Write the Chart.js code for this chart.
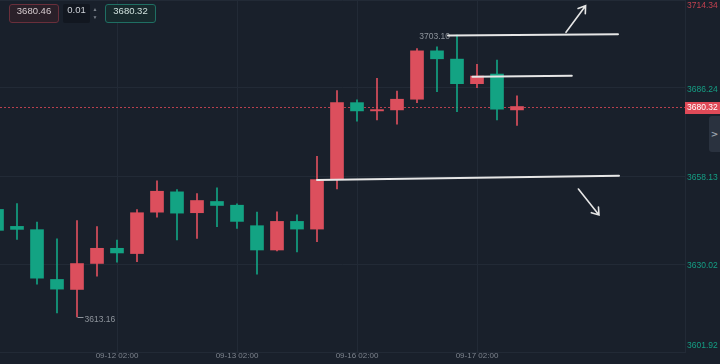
<!DOCTYPE html>
<html>
<head>
<meta charset="utf-8">
<script src="https://cdn.jsdelivr.net/npm/chart.js@4.4.1/dist/chart.umd.min.js"></script>
<style>
  html, body { margin: 0; padding: 0; background: #19202b; }
  #wrap { position: relative; width: 720px; height: 364px; overflow: hidden; }
  canvas { display: block; }
  .box {
    position: absolute; top: 4px; height: 19px; line-height: 18px;
    font: 9.5px 'Liberation Sans', Arial, sans-serif; text-align: center;
    border-radius: 3px; box-sizing: border-box;
  }
  #bid { left: 9px; width: 50px; background: #2a2029; border: 1px solid #6a2f3b; color: #d6ccd0; }
  #step { left: 63px; width: 27px; background: #121720; color: #cfd3d9; border-radius: 2px; }
  #spin { position: absolute; left: 92px; top: 5px; width: 6px; font: 5px sans-serif; color: #7a808a; line-height: 8px; text-align: center; }
  #ask { left: 105px; width: 51px; background: #172a2d; border: 1px solid #1f6f63; color: #cfe0dc; }
  #tab {
    position: absolute; left: 709px; top: 116px; width: 11px; height: 36px;
    background: #2a323f; border-radius: 3px 0 0 3px;
    color: #9aa2ad; font: bold 9px 'DejaVu Sans', sans-serif; line-height: 36px; text-align: center;
  }
</style>
</head>
<body>
<div id="wrap">
  <canvas id="grafica" width="720" height="364"></canvas>
  <div class="box" id="bid">3680.46</div>
  <div class="box" id="step">0.01</div>
  <div id="spin">▲<br>▼</div>
  <div class="box" id="ask">3680.32</div>
  <div id="tab">&gt;</div>
</div>
<script>
// 4H candles, 09-11 02:00 .. 09-17 10:00
const times = [
  '09-11 02:00', '09-11 06:00', '09-11 10:00', '09-11 14:00', '09-11 18:00', '09-11 22:00',
  '09-12 02:00', '09-12 06:00', '09-12 10:00', '09-12 14:00', '09-12 18:00', '09-12 22:00',
  '09-13 02:00', '09-13 06:00', '09-13 10:00', '09-13 14:00', '09-13 18:00', '09-13 22:00',
  '09-16 02:00', '09-16 06:00', '09-16 10:00', '09-16 14:00', '09-16 18:00', '09-16 22:00',
  '09-17 02:00', '09-17 06:00', '09-17 10:00'
];
const opens  = [3647.45, 3642.04, 3640.99, 3625.09, 3621.90, 3630.20, 3635.04, 3633.36, 3646.58,
                3653.07, 3646.40, 3649.99, 3648.80, 3642.26, 3634.50, 3643.63, 3641.18, 3657.20,
                3681.56, 3678.92, 3679.24, 3682.65, 3698.10, 3695.46, 3687.61, 3690.69, 3679.24];
const highs  = [3649.00, 3649.35, 3643.40, 3638.10, 3643.90, 3642.00, 3637.68, 3647.44, 3656.57,
                3653.80, 3652.53, 3654.35, 3649.26, 3646.58, 3646.70, 3645.76, 3664.39, 3685.38,
                3682.42, 3689.32, 3685.29, 3698.86, 3699.37, 3703.10, 3693.78, 3695.14, 3683.70];
const lows   = [3638.50, 3637.90, 3623.60, 3614.37, 3613.16, 3626.10, 3630.59, 3630.80, 3645.00,
                3637.68, 3638.22, 3641.94, 3641.40, 3626.77, 3634.20, 3633.87, 3637.17, 3654.00,
                3675.65, 3676.06, 3674.70, 3681.56, 3685.06, 3678.70, 3686.34, 3676.06, 3674.25];
const closes = [3640.77, 3641.08, 3625.50, 3622.00, 3630.17, 3635.04, 3633.55, 3646.40, 3653.26,
                3646.27, 3650.30, 3648.72, 3643.63, 3634.50, 3643.63, 3641.18, 3656.98, 3681.56,
                3678.92, 3679.34, 3682.65, 3698.10, 3695.56, 3687.61, 3690.06, 3679.47, 3680.32];

const yTicks = [3601.92, 3630.02, 3658.13, 3686.24, 3714.34];
const xTickIdx = [6, 12, 18, 24];

// hand-drawn lines: [x0 idx, price0, x1 idx, price1]
const levelLines = [
  [22.55, 3703.00, 31.05, 3703.40],
  [23.77, 3689.84, 28.74, 3690.16],
  [16.00, 3656.85, 31.10, 3658.23]
];
const arrows = [
  [28.45, 3704.02, 29.43, 3712.50],
  [29.07, 3653.98, 30.10, 3645.67]
];

const UP = '#dc4f5d';
const DOWN = '#13a383';
const GRID = '#222a36';
const colores = closes.map((c, i) => c >= opens[i] ? UP : DOWN);
const lastPrice = closes[closes.length - 1];
const FONT = "'Liberation Sans Narrow', 'Liberation Sans', Arial, sans-serif";

const overlay = {
    id: 'overlay',
    beforeDatasetsDraw(chart) {
        const { ctx, chartArea: a, scales: { y } } = chart;
        const py = Math.round(y.getPixelForValue(lastPrice)) + 0.5;
        ctx.save();
        ctx.strokeStyle = '#b8404e';
        ctx.lineWidth = 1;
        ctx.setLineDash([2, 2]);
        ctx.beginPath();
        ctx.moveTo(a.left, py);
        ctx.lineTo(a.right, py);
        ctx.stroke();
        ctx.restore();
    },
    afterDatasetsDraw(chart) {
        const { ctx, scales: { x, y } } = chart;
        ctx.save();
        // max / min labels
        let hi = 0, lo = 0;
        highs.forEach((v, i) => { if (v > highs[hi]) hi = i; });
        lows.forEach((v, i) => { if (v < lows[lo]) lo = i; });
        ctx.font = '8.5px ' + FONT;
        ctx.fillStyle = '#8e949c';
        ctx.strokeStyle = '#8e949c';
        ctx.lineWidth = 1;
        ctx.textBaseline = 'middle';
        const lx = Math.round(x.getPixelForValue(lo)) + 0.5;
        const ly = Math.round(y.getPixelForValue(lows[lo])) + 0.5;
        ctx.beginPath();
        ctx.moveTo(lx, ly);
        ctx.lineTo(lx + 6, ly);
        ctx.stroke();
        ctx.textAlign = 'left';
        ctx.fillText(lows[lo].toFixed(2), lx + 7, ly + 2);
        const hx = x.getPixelForValue(hi);
        const hy = y.getPixelForValue(highs[hi]);
        ctx.textAlign = 'right';
        ctx.fillText(highs[hi].toFixed(2), hx - 7, hy + 1);

        // drawn lines
        ctx.strokeStyle = '#e6e6e6';
        ctx.lineWidth = 2;
        ctx.lineCap = 'round';
        levelLines.forEach(l => {
            ctx.beginPath();
            ctx.moveTo(x.getPixelForValue(l[0]), y.getPixelForValue(l[1]));
            ctx.lineTo(x.getPixelForValue(l[2]), y.getPixelForValue(l[3]));
            ctx.stroke();
        });
        ctx.lineWidth = 1.6;
        arrows.forEach(l => {
            const x0 = x.getPixelForValue(l[0]), y0 = y.getPixelForValue(l[1]);
            const x1 = x.getPixelForValue(l[2]), y1 = y.getPixelForValue(l[3]);
            const ang = Math.atan2(y1 - y0, x1 - x0);
            ctx.beginPath();
            ctx.moveTo(x0, y0);
            ctx.lineTo(x1, y1);
            ctx.moveTo(x1 - 8 * Math.cos(ang - 0.6), y1 - 8 * Math.sin(ang - 0.6));
            ctx.lineTo(x1, y1);
            ctx.lineTo(x1 - 8 * Math.cos(ang + 0.6), y1 - 8 * Math.sin(ang + 0.6));
            ctx.stroke();
        });
        ctx.restore();
    },
    afterDraw(chart) {
        const { ctx, chartArea: a, scales: { y } } = chart;
        ctx.save();
        ctx.font = '8.5px ' + FONT;
        ctx.textBaseline = 'middle';
        ctx.textAlign = 'left';
        yTicks.forEach((v, i) => {
            let py = y.getPixelForValue(v) + 2;
            py = Math.min(Math.max(py, 6), 346);
            ctx.fillStyle = i === yTicks.length - 1 ? '#c2414f' : '#159e84';
            ctx.fillText(v.toFixed(2), a.right + 2, py);
        });
        // last price tag
        const py = y.getPixelForValue(lastPrice);
        ctx.fillStyle = '#e04a58';
        ctx.fillRect(a.right, Math.round(py) - 5, 35, 12);
        ctx.fillStyle = '#ffffff';
        ctx.fillText(lastPrice.toFixed(2), a.right + 2, py + 1);
        ctx.restore();
    }
};

const ctx = document.getElementById('grafica').getContext('2d');
new Chart(ctx, {
    type: 'bar',
    data: {
        datasets: [{
            label: 'cuerpo',
            data: times.map((t, i) => ({ x: i, y: [opens[i], closes[i]] })),
            backgroundColor: colores,
            barThickness: 13,
            minBarLength: 1,
            grouped: false
        }, {
            label: 'mecha',
            data: times.map((t, i) => ({ x: i, y: [lows[i], highs[i]] })),
            backgroundColor: colores,
            barThickness: 1,
            grouped: false
        }]
    },
    plugins: [overlay],
    options: {
        responsive: false,
        animation: false,
        devicePixelRatio: 1,
        layout: { padding: { left: 0, top: 0, right: 35, bottom: 4 } },
        plugins: { legend: { display: false }, tooltip: { enabled: false } },
        scales: {
            x: {
                type: 'linear',
                min: 0.15,
                max: 34.4,
                offset: false,
                afterBuildTicks: (scale) => { scale.ticks = xTickIdx.map(v => ({ value: v })); },
                ticks: {
                    padding: 0,
                    maxRotation: 0,
                    autoSkip: false,
                    color: '#7d838d',
                    font: { size: 8, family: FONT, lineHeight: 1 },
                    callback: (v) => times[v] || ''
                },
                grid: { color: GRID, drawTicks: false, offset: false },
                border: { color: GRID }
            },
            y: {
                position: 'right',
                min: yTicks[0],
                max: yTicks[yTicks.length - 1],
                afterBuildTicks: (scale) => { scale.ticks = yTicks.map(v => ({ value: v })); },
                ticks: { display: false },
                grid: { color: GRID, drawTicks: false },
                border: { color: GRID }
            }
        }
    }
});
</script>
</body>
</html>
